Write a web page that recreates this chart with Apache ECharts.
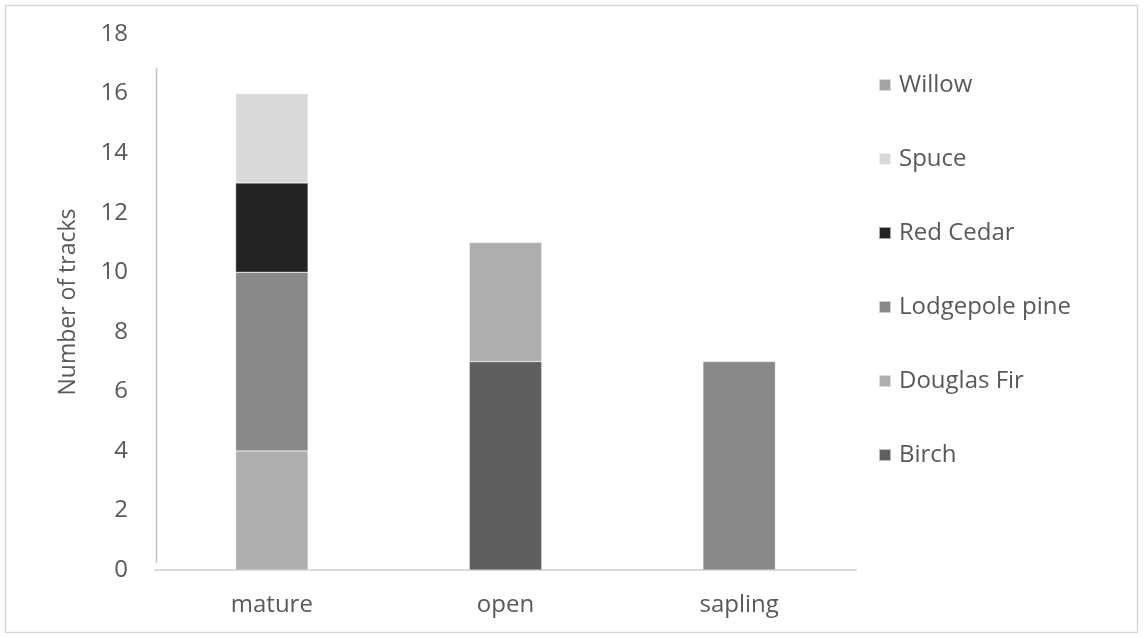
<!DOCTYPE html>
<html>
<head>
<meta charset="utf-8">
<script src="https://cdn.jsdelivr.net/npm/echarts@6/dist/echarts.min.js"></script>
<style>
  html, body { margin: 0; padding: 0; background: #fff; }
  #chart { width: 1143px; height: 637px; }
</style>
</head>
<body>
<div id="chart"></div>
<script>
// Habitat categories along the x axis
const habitats = ['mature', 'open', 'sapling'];

// Track counts per tree species (stacked bottom to top in this order)
const birch = [null, 7, null];
const douglasFir = [4, 4, null];
const lodgepolePine = [6, null, 7];
const redCedar = [3, null, null];
const spuce = [3, null, null];
const willow = [null, null, null];

const seriesDefs = [
  { name: 'Birch', data: birch, color: '#5f5f5f' },
  { name: 'Douglas Fir', data: douglasFir, color: '#aeaeae' },
  { name: 'Lodgepole pine', data: lodgepolePine, color: '#888888' },
  { name: 'Red Cedar', data: redCedar, color: '#232323' },
  { name: 'Spuce', data: spuce, color: '#d9d9d9' },
  { name: 'Willow', data: willow, color: '#a5a5a5' }
];

const textColor = '#595959';
const fontFamily = '"Open Sans", Lato, sans-serif';

const chart = echarts.init(document.getElementById('chart'));
chart.setOption({
  animation: false,
  textStyle: { fontFamily: fontFamily },
  grid: { left: 155, right: 287, top: 34, bottom: 67, containLabel: false },
  legend: {
    orient: 'vertical',
    left: 873,
    top: 68,
    itemGap: 50,
    itemWidth: 12,
    itemHeight: 12,
    icon: 'rect',
    data: seriesDefs.map(s => s.name).reverse(),
    textStyle: { fontSize: 24, color: textColor, fontFamily: fontFamily, padding: [0, 0, 0, 3] }
  },
  xAxis: {
    type: 'category',
    data: habitats,
    axisLine: { show: true, lineStyle: { color: '#d9d9d9', width: 2 } },
    axisTick: { show: false },
    axisLabel: { fontSize: 24, color: textColor, margin: 23, fontFamily: fontFamily }
  },
  yAxis: {
    type: 'value',
    min: 0,
    max: 18,
    interval: 2,
    name: 'Number of tracks',
    nameLocation: 'middle',
    nameGap: 75,
    nameTextStyle: { fontSize: 23, color: textColor, fontFamily: fontFamily },
    axisLine: { show: false },
    axisTick: { show: false },
    splitLine: { show: false },
    axisLabel: { fontSize: 24, color: textColor, margin: 27, fontFamily: fontFamily }
  },
  graphic: [
    {
      type: 'rect',
      shape: { x: 5.5, y: 5.5, width: 1132, height: 627 },
      style: { fill: 'none', stroke: '#d9d9d9', lineWidth: 1.5 },
      silent: true
    },
    {
      type: 'line',
      shape: { x1: 156.5, y1: 68, x2: 156.5, y2: 563 },
      style: { stroke: '#bfbfbf', lineWidth: 1.5 },
      silent: true
    }
  ],
  series: seriesDefs.map(s => ({
    name: s.name,
    type: 'bar',
    stack: 'tracks',
    barWidth: '31%',
    data: s.data,
    itemStyle: { color: s.color, borderColor: 'rgba(255,255,255,0.6)', borderWidth: 0.5 }
  }))
});
</script>
</body>
</html>
